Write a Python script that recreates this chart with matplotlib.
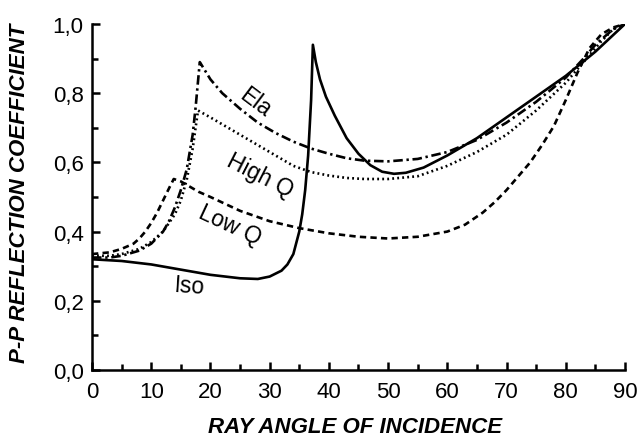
import matplotlib.pyplot as plt
from matplotlib.ticker import MultipleLocator, FuncFormatter

plt.rcParams['font.family'] = ['Liberation Sans', 'DejaVu Sans']

# curves (angle in degrees, P-P reflection coefficient)
iso_x = [0, 5, 10, 15, 20, 25, 28, 30, 32, 33, 34, 35, 35.5, 36, 36.5, 37, 37.3,
         37.8, 38.5, 39.5, 41, 43, 45, 47, 49, 51, 53, 56, 60, 65, 70, 75, 80, 85, 90]
iso_y = [0.32, 0.315, 0.305, 0.29, 0.275, 0.265, 0.263, 0.27, 0.287, 0.305, 0.335, 0.40,
         0.45, 0.52, 0.62, 0.78, 0.94, 0.89, 0.84, 0.79, 0.735, 0.67, 0.625, 0.592,
         0.573, 0.567, 0.57, 0.585, 0.62, 0.67, 0.73, 0.79, 0.85, 0.92, 1.0]

ela_x = [0, 3, 5, 8, 10, 12, 13, 14, 15, 16, 17, 17.5, 18.2, 20, 22, 25, 28, 31, 34, 37,
         40, 43, 46, 50, 55, 60, 65, 70, 75, 80, 83, 85, 88, 90]
ela_y = [0.325, 0.325, 0.33, 0.345, 0.365, 0.40, 0.43, 0.47, 0.52, 0.58, 0.68, 0.76, 0.89,
         0.84, 0.80, 0.755, 0.715, 0.685, 0.66, 0.64, 0.625, 0.612, 0.605, 0.603, 0.61, 0.63,
         0.665, 0.715, 0.775, 0.845, 0.9, 0.94, 0.985, 1.0]

highq_x = [0, 3, 5, 8, 10, 12, 14, 15, 16, 17, 17.9, 20, 22, 25, 28, 31, 34, 37, 40, 43,
           46, 50, 55, 60, 65, 70, 75, 80, 83, 86, 88, 90]
highq_y = [0.33, 0.33, 0.335, 0.35, 0.37, 0.40, 0.45, 0.49, 0.55, 0.64, 0.75, 0.73, 0.71,
           0.68, 0.65, 0.62, 0.59, 0.572, 0.562, 0.555, 0.552, 0.552, 0.56, 0.59, 0.63,
           0.68, 0.75, 0.83, 0.89, 0.95, 0.985, 1.0]

lowq_x = [0, 3, 5, 7, 8, 9, 10, 11, 12, 13, 13.8, 15, 16, 18, 20, 25, 30, 35, 40, 45, 50,
          55, 60, 63, 66, 68, 70, 72, 74, 76, 78, 80, 82, 84, 86, 88, 90]
lowq_y = [0.335, 0.34, 0.35, 0.365, 0.38, 0.40, 0.425, 0.455, 0.49, 0.525, 0.552, 0.545,
          0.535, 0.515, 0.50, 0.46, 0.43, 0.41, 0.395, 0.385, 0.38, 0.385, 0.40, 0.42,
          0.455, 0.485, 0.52, 0.56, 0.60, 0.65, 0.705, 0.78, 0.86, 0.93, 0.97, 0.99, 1.0]

fig = plt.figure(figsize=(6.39, 4.39), dpi=100)
ax = fig.add_axes([0.144, 0.155, 0.834, 0.788])

lw = 1.9
ax.plot(iso_x, iso_y, color='black', lw=lw)
ax.plot(ela_x, ela_y, color='black', lw=lw, dashes=(3.6, 1.4, 0.9, 1.4))
ax.plot(highq_x, highq_y, color='black', lw=lw, dashes=(0.7, 1.2))
ax.plot(lowq_x, lowq_y, color='black', lw=lw, dashes=(2.4, 1.6))

# curve labels
ax.text(27.5, 0.775, 'Ela', fontsize=16.5, rotation=-37, ha='center', va='center')
ax.text(28.3, 0.565, 'High Q', fontsize=16.5, rotation=-27, ha='center', va='center')
ax.text(23.3, 0.42, 'Low Q', fontsize=16.5, rotation=-25, ha='center', va='center')
ax.text(16.5, 0.245, 'Iso', fontsize=16.5, rotation=-4, ha='center', va='center')

ax.set_xlim(0, 90)
ax.set_ylim(0, 1.0)
ax.xaxis.set_major_locator(MultipleLocator(10))
ax.xaxis.set_minor_locator(MultipleLocator(5))
ax.yaxis.set_major_locator(MultipleLocator(0.2))
ax.yaxis.set_minor_locator(MultipleLocator(0.1))
ax.yaxis.set_major_formatter(FuncFormatter(lambda v, p: f'{v:.1f}'.replace('.', ',')))

for s in ['top', 'right']:
    ax.spines[s].set_visible(False)
for s in ['left', 'bottom']:
    ax.spines[s].set_linewidth(1.8)
ax.tick_params(which='both', direction='in', width=1.8, labelsize=16)
ax.tick_params(axis='x', pad=8)
ax.tick_params(axis='y', pad=6)
ax.tick_params(which='major', length=6)
ax.tick_params(which='minor', length=4)

# axis titles placed in figure coords
fig.text(0.556, 0.027, 'RAY ANGLE OF INCIDENCE', fontsize=16, fontweight='bold',
         style='italic', ha='center', va='center')
fig.text(0.03, 0.56, 'P-P REFLECTION COEFFICIENT', fontsize=16, fontweight='bold',
         style='italic', ha='center', va='center', rotation=90)

fig.savefig('out.png', dpi=100)
